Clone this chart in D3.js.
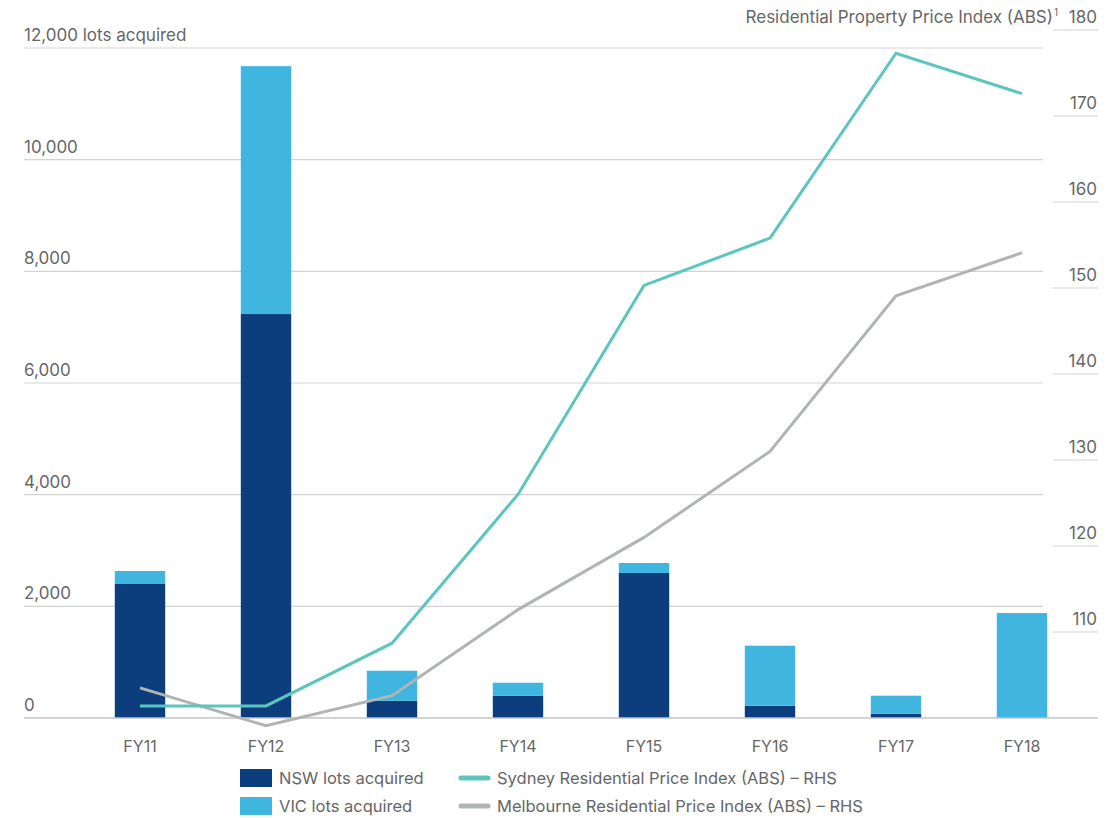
<!DOCTYPE html>
<html>
<head>
<meta charset="utf-8">
<script src="https://cdn.jsdelivr.net/npm/d3@7"></script>
<style>
  html, body { margin: 0; padding: 0; background: #fff; }
  svg text { font-family: "Inter", "Noto Sans", sans-serif; fill: #666; }
</style>
</head>
<body>
<svg id="chart" width="1119" height="818"></svg>
<script>
const categories = ["FY11", "FY12", "FY13", "FY14", "FY15", "FY16", "FY17", "FY18"];
const nswLots = [2400, 7235, 310, 400, 2597, 220, 77, 0];
const vicLots = [233, 4440, 537, 232, 179, 1075, 323, 1880];
const sydneyIndex = [101.4, 101.4, 108.7, 126.0, 150.3, 155.8, 177.3, 172.6];
const melbourneIndex = [103.5, 99.1, 102.6, 112.6, 121.0, 131.0, 149.1, 154.1];
const leftTicks = [0, 2000, 4000, 6000, 8000, 10000, 12000];
const rightTicks = [110, 120, 130, 140, 150, 160, 170, 180];

const colors = { nsw: "#0c3d7c", vic: "#3fb5e0", syd: "#5cc6be", mel: "#b1b4b4" };

const svg = d3.select("#chart");
const x = d3.scaleBand().domain(categories).range([77, 1085]).paddingInner(0.6).paddingOuter(0.3);
const yL = d3.scaleLinear().domain([0, 12000]).range([718, 48]);
const yR = d3.scaleLinear().domain([100, 180]).range([718, 30]);

// gridlines (left axis)
svg.append("g").selectAll("line").data(leftTicks.filter(d => d > 0)).join("line")
  .attr("x1", 24).attr("x2", 1043)
  .attr("y1", d => yL(d)).attr("y2", d => yL(d))
  .attr("stroke", "#d3d3d3").attr("stroke-width", 1.2);

// left labels
const fmt = d3.format(",");
svg.append("g").selectAll("text").data(leftTicks).join("text")
  .attr("x", 24).attr("y", d => yL(d) - 7)
  .attr("font-size", 17)
  .text(d => d === 12000 ? fmt(d) + " lots acquired" : fmt(d));

// right ticks and labels
const rg = svg.append("g");
rg.selectAll("line").data(rightTicks).join("line")
  .attr("x1", 1053).attr("x2", 1098)
  .attr("y1", d => yR(d)).attr("y2", d => yR(d))
  .attr("stroke", "#d3d3d3").attr("stroke-width", 1.2);
rg.selectAll("text").data(rightTicks).join("text")
  .attr("x", 1097).attr("y", d => yR(d) - 7)
  .attr("text-anchor", "end").attr("font-size", 17)
  .text(d => d);

// right axis title
const rt = svg.append("text").attr("x", 1058).attr("y", 23).attr("text-anchor", "end").attr("font-size", 17);
rt.append("tspan").text("Residential Property Price Index (ABS)");
rt.append("tspan").attr("font-size", 10).attr("dx", 1).attr("dy", -7).text("1");

// stacked bars
const stackData = categories.map((c, i) => ({ cat: c, nsw: nswLots[i], vic: vicLots[i] }));
const series = d3.stack().keys(["nsw", "vic"])(stackData);
svg.append("g").selectAll("g").data(series).join("g")
  .attr("fill", d => colors[d.key])
  .selectAll("rect").data(d => d).join("rect")
  .attr("x", d => x(d.data.cat))
  .attr("width", x.bandwidth())
  .attr("y", d => yL(d[1]))
  .attr("height", d => yL(d[0]) - yL(d[1]));

// baseline
svg.append("line").attr("x1", 24).attr("x2", 1098).attr("y1", yL(0)).attr("y2", yL(0))
  .attr("stroke", "#c4c4c4").attr("stroke-width", 1.5);

// lines
const line = d3.line().x((d, i) => x(categories[i]) + x.bandwidth() / 2).y(d => yR(d));
svg.append("path").datum(melbourneIndex).attr("d", line)
  .attr("fill", "none").attr("stroke", colors.mel).attr("stroke-width", 3);
svg.append("path").datum(sydneyIndex).attr("d", line)
  .attr("fill", "none").attr("stroke", colors.syd).attr("stroke-width", 3);

// x-axis labels
svg.append("g").selectAll("text").data(categories).join("text")
  .attr("x", d => x(d) + x.bandwidth() / 2).attr("y", 752)
  .attr("text-anchor", "middle").attr("font-size", 16)
  .text(d => d);

// legend
const lg = svg.append("g");
const barLegend = [
  { label: "NSW lots acquired", color: colors.nsw, y: 769 },
  { label: "VIC lots acquired", color: colors.vic, y: 797 }
];
lg.selectAll("rect").data(barLegend).join("rect")
  .attr("x", 240).attr("y", d => d.y).attr("width", 32).attr("height", 18)
  .attr("fill", d => d.color);
lg.selectAll("text.b").data(barLegend).join("text").attr("class", "b")
  .attr("x", 279).attr("y", d => d.y + 15).attr("font-size", 16.5)
  .text(d => d.label);
const lineLegend = [
  { label: "Sydney Residential Price Index (ABS) – RHS", color: colors.syd, y: 778 },
  { label: "Melbourne Residential Price Index (ABS) – RHS", color: colors.mel, y: 806 }
];
lg.selectAll("line").data(lineLegend).join("line")
  .attr("x1", 461).attr("x2", 488).attr("y1", d => d.y).attr("y2", d => d.y)
  .attr("stroke", d => d.color).attr("stroke-width", 5).attr("stroke-linecap", "round");
lg.selectAll("text.l").data(lineLegend).join("text").attr("class", "l")
  .attr("x", 497).attr("y", d => d.y + 6).attr("font-size", 16.5)
  .text(d => d.label);
</script>
</body>
</html>
